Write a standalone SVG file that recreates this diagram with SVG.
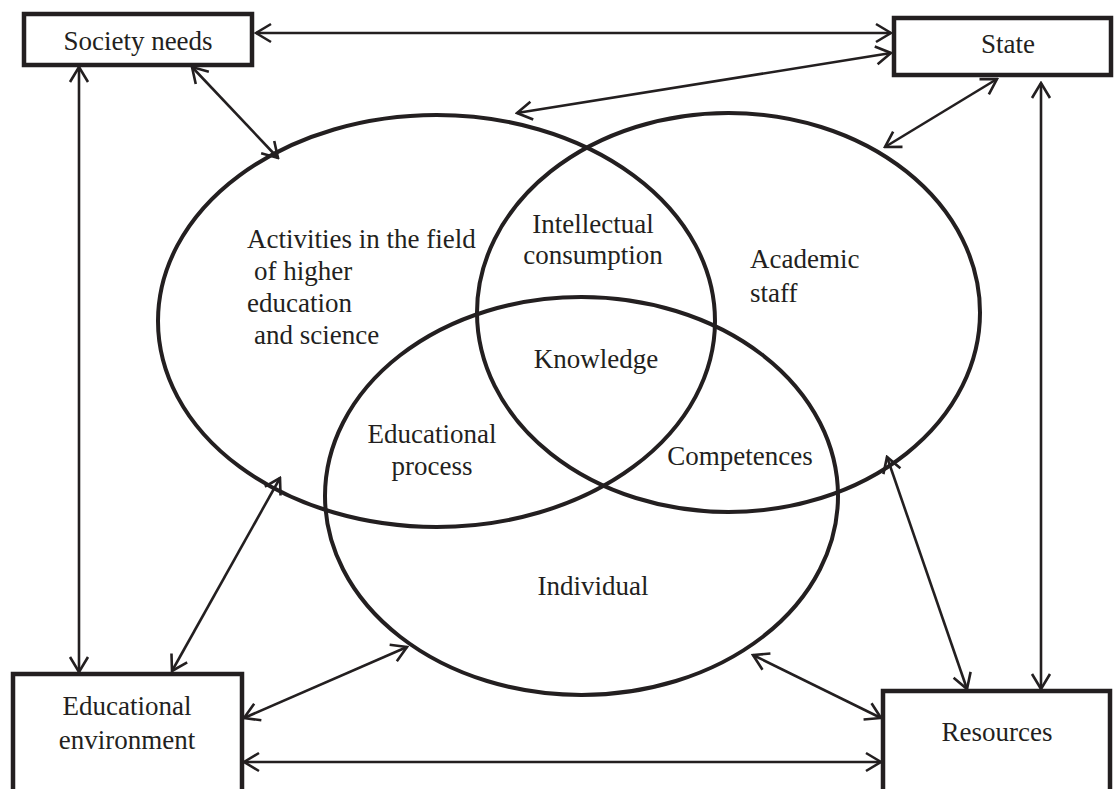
<svg xmlns="http://www.w3.org/2000/svg" width="1115" height="789" viewBox="0 0 1115 789">
<style>
.box{fill:#fff;stroke:#231f20;stroke-width:4.5}
.ell{fill:none;stroke:#231f20;stroke-width:4}
.t{font-family:"Liberation Serif","Times New Roman",serif;font-size:27px;fill:#231f20}
.m{text-anchor:middle}
.c{stroke:#231f20;stroke-width:2.6;fill:none;marker-start:url(#ah);marker-end:url(#ah)}
</style>
<defs>
<marker id="ah" markerUnits="userSpaceOnUse" viewBox="0 0 18 22" refX="16" refY="11" markerWidth="18" markerHeight="22" orient="auto-start-reverse">
<path d="M1,2 L16,11 L1,20" fill="none" stroke="#231f20" stroke-width="2.6"/>
</marker>
</defs>
<rect width="1115" height="789" fill="#fff"/>
<g id="ellipses">
<ellipse id="activities" class="ell" cx="436.5" cy="321" rx="278.5" ry="206"/>
<ellipse id="academic" class="ell" cx="728.5" cy="312.5" rx="251.5" ry="199.5"/>
<ellipse id="individual" class="ell" cx="581.5" cy="496" rx="256.5" ry="199"/>
</g>
<g id="labels">
<text class="t" x="247" y="248">Activities in the field</text>
<text class="t" x="254" y="280">of higher</text>
<text class="t" x="247" y="312">education</text>
<text class="t" x="254" y="344">and science</text>
<text class="t m" x="593" y="233">Intellectual</text>
<text class="t m" x="593" y="264">consumption</text>
<text class="t" x="750" y="268">Academic</text>
<text class="t" x="750" y="302">staff</text>
<text class="t m" x="596" y="368">Knowledge</text>
<text class="t m" x="432" y="443">Educational</text>
<text class="t m" x="432" y="475">process</text>
<text class="t m" x="740" y="465">Competences</text>
<text class="t m" x="593" y="595">Individual</text>
</g>
<g id="connectors">
<line class="c" x1="256" y1="33" x2="891" y2="33"/>
<line class="c" x1="891" y1="53" x2="517" y2="113"/>
<line class="c" x1="192" y1="67" x2="278" y2="158"/>
<line class="c" x1="79" y1="67" x2="79" y2="672"/>
<line class="c" x1="997" y1="79" x2="885" y2="147"/>
<line class="c" x1="1041" y1="83" x2="1041" y2="689"/>
<line class="c" x1="887" y1="457" x2="967" y2="689"/>
<line class="c" x1="753" y1="655" x2="881" y2="718"/>
<line class="c" x1="244" y1="762" x2="881" y2="762"/>
<line class="c" x1="244" y1="718" x2="407" y2="647"/>
<line class="c" x1="280" y1="478" x2="172" y2="671"/>
</g>
<g id="society-needs">
<rect class="box" x="24" y="14" width="228" height="51"/>
<text class="t m" x="138" y="50">Society needs</text>
</g>
<g id="state">
<rect class="box" x="894" y="18" width="217" height="57"/>
<text class="t m" x="1008" y="53">State</text>
</g>
<g id="educational-environment">
<rect class="box" x="13" y="674" width="229" height="130"/>
<text class="t m" x="127" y="715">Educational</text>
<text class="t m" x="127" y="749">environment</text>
</g>
<g id="resources">
<rect class="box" x="883" y="691" width="227" height="120"/>
<text class="t m" x="997" y="741">Resources</text>
</g>
</svg>
